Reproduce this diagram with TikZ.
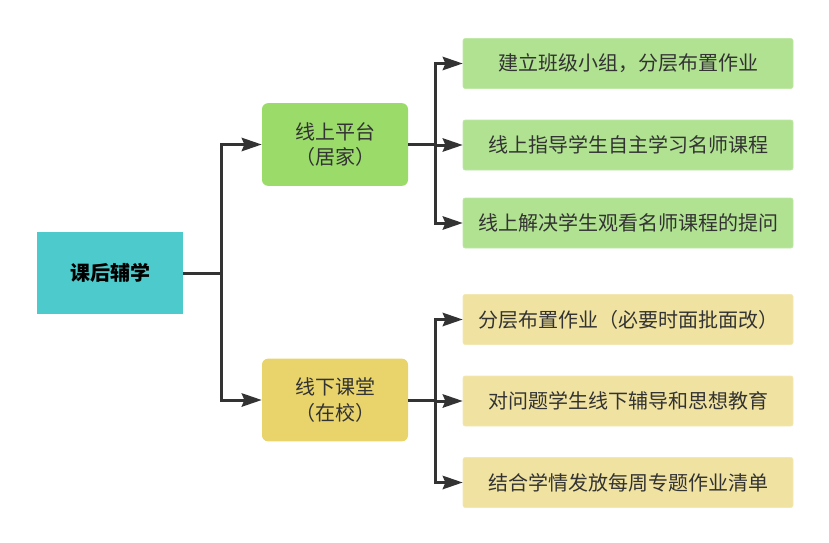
\documentclass[tikz,border=0pt]{standalone}
\usepackage{fontspec}
\usepackage{xcolor}
\usetikzlibrary{positioning,arrows.meta}
\newfontfamily\cjk{Noto Sans CJK SC}
\definecolor{rootteal}{RGB}{77,203,204}
\definecolor{onlinegreen}{RGB}{154,219,106}
\definecolor{onlineleaf}{RGB}{176,226,145}
\definecolor{offlineyellow}{RGB}{232,212,106}
\definecolor{offlineleaf}{RGB}{240,226,160}
\definecolor{linegray}{RGB}{51,51,51}

\begin{document}
\begin{tikzpicture}[x=0.75pt, y=-0.75pt,
    box/.style={rectangle, align=center, text=linegray, font=\cjk\fontsize{15}{19}\selectfont},
    midbox/.style={box, rounded corners=4.5pt, minimum width=109.5pt, minimum height=62pt},
    leafbox/.style={box, rounded corners=1.5pt, minimum width=247.5pt, minimum height=37.5pt},
    link/.style={draw=linegray, line width=2.25pt},
    arr/.style={link, -{Stealth[length=15pt, width=10pt, inset=2pt]}}]
    \useasboundingbox (0,0) rectangle (829,543);

    % root
    \node[box, fill=rootteal, minimum width=109.5pt, minimum height=61.5pt, text=black, font=\cjk\bfseries\fontsize{15}{19}\selectfont] (root) at (110,273) {课后辅学};

    % second level
    \node[midbox, fill=onlinegreen] (online) at (335,144.5) {线上平台\\（居家）};
    \node[midbox, fill=offlineyellow] (offline) at (335,400) {线下课堂\\（在校）};

    % leaves
    \node[leafbox, fill=onlineleaf, draw=onlineleaf!80!white] (on1) at (628,63.5) {建立班级小组，分层布置作业};
    \node[leafbox, fill=onlineleaf, draw=onlineleaf!80!white] (on2) at (628,145) {线上指导学生自主学习名师课程};
    \node[leafbox, fill=onlineleaf, draw=onlineleaf!80!white] (on3) at (628,223) {线上解决学生观看名师课程的提问};
    \node[leafbox, fill=offlineleaf, draw=offlineleaf!80!white] (off1) at (628,319.5) {分层布置作业（必要时面批面改）};
    \node[leafbox, fill=offlineleaf, draw=offlineleaf!80!white] (off2) at (628,401) {对问题学生线下辅导和思想教育};
    \node[leafbox, fill=offlineleaf, draw=offlineleaf!80!white] (off3) at (628,482.5) {结合学情发放每周专题作业清单};

    % connectors
    \coordinate (j0) at (221,273);
    \coordinate (j1) at (435,144.5);
    \coordinate (j2) at (435,400);
    \draw[link] (root.east) -- (j0);
    \draw[arr] (j0) |- (online.west);
    \draw[arr] (j0) |- (offline.west);
    \draw[link] (online.east) -- (j1);
    \foreach \leaf in {on1,on2,on3} {
        \draw[arr] (j1) |- (\leaf.west);
    }
    \draw[link] (offline.east) -- (j2);
    \foreach \leaf in {off1,off2,off3} {
        \draw[arr] (j2) |- (\leaf.west);
    }
\end{tikzpicture}
\end{document}
